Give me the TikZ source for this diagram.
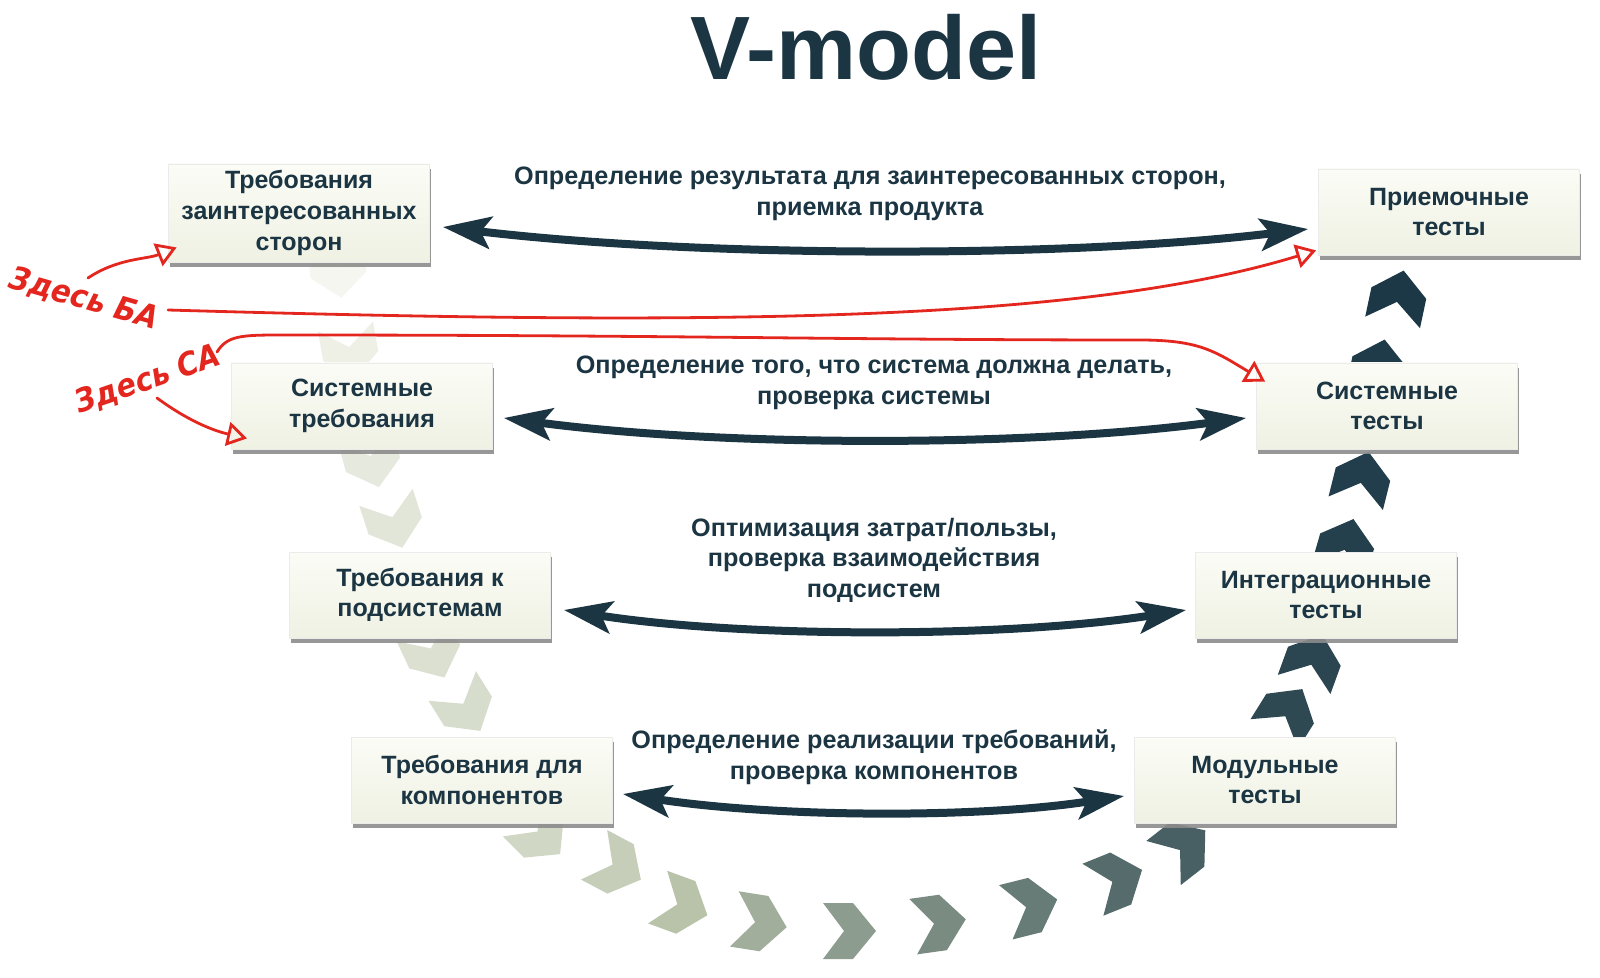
\documentclass[tikz,border=0pt]{standalone}
\usepackage{fontspec}
\setmainfont{Liberation Sans}
\newfontfamily\handfont{DejaVu Sans Condensed}
\usetikzlibrary{arrows.meta,shadows}

\definecolor{vdark}{HTML}{1C3543}
\definecolor{pale}{HTML}{EEF0E6}
\definecolor{sage}{HTML}{B8C3AA}
\definecolor{deep}{HTML}{1C3847}
\definecolor{boxtop}{HTML}{FBFCF6}
\definecolor{boxbot}{HTML}{EFF1E3}
\definecolor{markred}{HTML}{E3261E}

\begin{document}
\begin{tikzpicture}[x=0.5pt, y=-0.5pt, line cap=round, line join=round,
		stage/.style={top color=boxtop, bottom color=boxbot, draw=black!8,
			minimum width=130.5pt, minimum height=43pt, align=center, text=vdark,
			font=\bfseries\fontsize{12.5}{15.3}\selectfont,
			drop shadow={shadow xshift=0.6pt, shadow yshift=-2.4pt, fill=black!45, opacity=0.9}},
		phase/.style={align=center, text=vdark, font=\bfseries\fontsize{12.6}{15.3}\selectfont},
		link/.style={vdark, line width=4pt,
			{Stealth[length=24pt, width=16pt, inset=5pt]}-{Stealth[length=24pt, width=16pt, inset=5pt]}},
		note/.style={markred, font=\handfont\bfseries\itshape\fontsize{16}{18}\selectfont},
		hint/.style={markred, line width=1.4pt, -{Triangle[open, length=10pt, width=12pt]}}]
	% Define window bounds
	\useasboundingbox (0,0) rectangle (1600,978);
	
	% Chevrons along the V
	\foreach \cx/\cy/\ca/\cc in {338/271/-83/pale!60!white, 350/352/-80/pale,
		372/461/-75/sage!15!pale, 394/522/-72/sage!22!pale, 433/653/-65/sage!35!pale,
		466/708/-58/sage!42!pale, 541/835/-45/sage!55!pale, 617/867/-28/sage!75!pale,
		682/906/-20/sage, 760/923/-9/deep!15!sage, 849/931/0/deep!28!sage,
		939/923/8/deep!40!sage, 1031/906/14/deep!52!sage, 1117/880/22/deep!63!sage,
		1184/847/38/deep!72!sage, 1288/712/58/deep!88!sage, 1313/660/70/deep!90!sage,
		1346/545/74/deep!94!sage, 1362/478/76/deep!96!sage, 1379/366/78/deep!98!sage,
		1398/297/78/deep}
	\fill[\cc, shift={(\cx,\cy)}, rotate=\ca]
	(-26,-28) -- (4,-28) -- (27,0) -- (4,28) -- (-26,28) -- (-5,0) -- cycle;
	
	% Title
	\node[text=vdark, font=\bfseries\fontsize{45}{54}\selectfont, anchor=base] (title) at (866,80) {V-model};
	
	% Left branch
	\node[stage] (req1) at (299,213) {Требования\\заинтересованных\\сторон};
	\node[stage] (req2) at (362,406) {Системные\\требования};
	\node[stage] (req3) at (420,595) {Требования к\\подсистемам};
	\node[stage] (req4) at (482,780) {Требования для\\компонентов};
	
	% Right branch
	\node[stage] (tst1) at (1449,212) {Приемочные\\тесты};
	\node[stage] (tst2) at (1387,406) {Системные\\тесты};
	\node[stage] (tst3) at (1326,595) {Интеграционные\\тесты};
	\node[stage] (tst4) at (1265,780) {Модульные\\тесты};
	
	% Labels between the branches
	\node[phase] (ph1) at (870,194) {Определение результата для заинтересованных сторон,\\приемка продукта};
	\node[phase] (ph2) at (874,383) {Определение того, что система должна делать,\\проверка системы};
	\node[phase] (ph3) at (874,560) {Оптимизация затрат/пользы,\\проверка взаимодействия\\подсистем};
	\node[phase] (ph4) at (874,757) {Определение реализации требований,\\проверка компонентов};
	
	% Double arrows
	\draw[link] ([shift={(13,14)}]req1.east) .. controls +(250,30) and +(-250,30) .. ([shift={(-10,17)}]tst1.west);
	\draw[link] ([shift={(11,12)}]req2.east) .. controls +(220,29) and +(-220,29) .. ([shift={(-10,12)}]tst2.west);
	\draw[link] ([shift={(13,15)}]req3.east) .. controls +(180,28) and +(-180,28) .. ([shift={(-9,15)}]tst3.west);
	\draw[link] ([shift={(10,14)}]req4.east) .. controls +(150,23) and +(-150,23) .. ([shift={(-10,16)}]tst4.west);
	
	% Handwritten notes
	\node[note, rotate=-16] (ba) at (84,299) {Здесь БА};
	\node[note, rotate=19] (sa) at (148,380) {Здесь СА};
	
	\draw[hint] ([shift={(4,-21)}]ba.center) .. controls +(30,-20) and +(-30,12) .. ([shift={(8.5,-15)}]req1.south west);
	\draw[hint] ([shift={(84,11)}]ba.center) .. controls +(550,16) and +(-236,72) .. ([shift={(-2,-5)}]tst1.south west);
	\draw[hint] ([shift={(69,-28)}]sa.center) .. controls +(10,-16) and +(-40,0) .. (280,335)
	.. controls +(400,0) and +(-300,0) .. (1140,340)
	.. controls +(60,0) and +(-50,-30) .. ([shift={(9,19)}]tst2.north west);
	\draw[hint] ([shift={(9,18)}]sa.center) .. controls +(30,22) and +(-35,-8) .. ([shift={(16,-11)}]req2.south west);
\end{tikzpicture}
\end{document}
